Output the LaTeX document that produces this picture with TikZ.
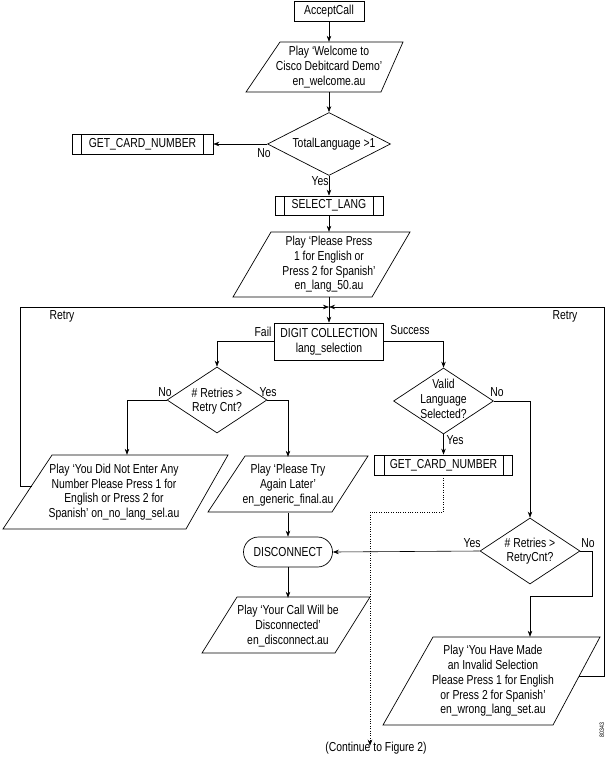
\documentclass[tikz,border=0pt]{standalone}
\usepackage{fontspec}
\setmainfont{Liberation Sans}[FakeStretch=0.8]
\usetikzlibrary{shapes.geometric,shapes.misc,arrows.meta}
\begin{document}
\begin{tikzpicture}[x=1pt,y=-1pt,
  txt/.style={font=\fontsize{13}{14.7}\selectfont, align=center, inner sep=0pt},
  box/.style={txt, draw, line width=0.7pt},
  proc/.style={box, path picture={\draw[line width=0.7pt]
      ([xshift=9.5pt]path picture bounding box.north west) -- ([xshift=9.5pt]path picture bounding box.south west)
      ([xshift=-9.5pt]path picture bounding box.north east) -- ([xshift=-9.5pt]path picture bounding box.south east);}},
  dec/.style={diamond, draw, line width=0.7pt, inner sep=0pt},
  term/.style={box, rounded rectangle},
  pline/.style={line width=0.7pt, line join=miter},
  conn/.style={line width=0.6pt},
  arr/.style={conn, -{Stealth[length=6pt,width=4.5pt]}},
  dots/.style={dash pattern=on 1pt off 1.4pt}
]
\useasboundingbox (0,0) rectangle (608,757);
\fill[white] (0,0) rectangle (608,757);

% nodes
\node[box, minimum width=70pt, minimum height=20pt] (accept) at (329,11) {AcceptCall};

\node[txt, minimum height=50pt] (welcome) at (329,67) {Play ‘Welcome to\\Cisco Debitcard Demo’\\en\_welcome.au};
\draw[pline] (280,42) -- (403,42) -- (381,92) -- (246,92) -- cycle;

\node[dec, minimum width=123pt, minimum height=63pt] (total) at (329,144) {};
\node[txt] (totalT) at (334,144) {TotalLanguage >1};

\node[proc, minimum width=141pt, minimum height=20pt] (gcnL) at (142.5,144) {GET\_CARD\_NUMBER};

\node[proc, minimum width=108pt, minimum height=19pt] (select) at (329,205.5) {SELECT\_LANG};

\node[txt, minimum height=65pt] (lang) at (329,264.5) {Play ‘Please Press\\1 for English or\\Press 2 for Spanish’\\en\_lang\_50.au};
\draw[pline] (271,232) -- (410,232) -- (372,297) -- (233,297) -- cycle;

\node[box, minimum width=109pt, minimum height=37pt] (digit) at (329,341.5) {DIGIT COLLECTION\\lang\_selection};

\node[dec, minimum width=100pt, minimum height=66pt] (retryL) at (217,400) {};
\node[txt] (retryLT) at (217,401) {\# Retries >\\Retry Cnt?};

\node[dec, minimum width=100pt, minimum height=66pt] (valid) at (443.5,401) {};
\node[txt] (validT) at (443.5,399) {Valid\\Language\\Selected?};

\node[txt, minimum height=74pt] (nolang) at (114,492) {Play ‘You Did Not Enter Any\\Number Please Press 1 for\\English or Press 2 for\\Spanish’ on\_no\_lang\_sel.au};
\draw[pline] (52,455) -- (228,455) -- (186,529) -- (3,529) -- cycle;

\node[txt, minimum height=56pt] (trylater) at (288,485) {Play ‘Please Try\\Again Later’\\en\_generic\_final.au};
\draw[pline] (245,456) -- (368,456) -- (332,512) -- (208,512) -- cycle;

\node[proc, minimum width=138pt, minimum height=20pt] (gcnR) at (443.5,465) {GET\_CARD\_NUMBER};

\node[term, minimum width=89pt, minimum height=30pt] (disc) at (288,552) {DISCONNECT};

\node[dec, minimum width=100pt, minimum height=66pt] (retryR) at (530,551) {};
\node[txt] (retryRT) at (530,551) {\# Retries >\\RetryCnt?};

\node[txt, minimum height=56pt] (discpara) at (288,626) {Play ‘Your Call Will be\\Disconnected’\\en\_disconnect.au};
\draw[pline] (237,597) -- (370,597) -- (335,653) -- (202,653) -- cycle;

\node[txt, minimum height=88pt] (wrong) at (493,681) {Play ‘You Have Made\\an Invalid Selection\\Please Press 1 for English\\or Press 2 for Spanish’\\en\_wrong\_lang\_set.au};
\draw[pline] (433,637) -- (600,637) -- (553,725) -- (383,725) -- cycle;

\node[txt] (cont) at (376,748) {(Continue to Figure 2)};
\node[txt, font=\fontsize{6.5}{7}\selectfont, rotate=90] (fignum) at (602,730) {80343};

% labels
\node[txt] (lNo1) at (264,153) {No};
\node[txt] (lYes1) at (320,181) {Yes};
\node[txt] (lRetryL) at (62,316) {Retry};
\node[txt] (lRetryR) at (565,316) {Retry};
\node[txt] (lFail) at (263,332) {Fail};
\node[txt] (lSucc) at (410,330) {Success};
\node[txt] (lNo2) at (165,392) {No};
\node[txt] (lYes2) at (268,392) {Yes};
\node[txt] (lNo3) at (497,392) {No};
\node[txt] (lYes3) at (455,440) {Yes};
\node[txt] (lYes4) at (472,543) {Yes};
\node[txt] (lNo4) at (588,543) {No};

% coordinates
\coordinate (merge) at (329,307);
\coordinate (nside) at (31.5,486);
\coordinate (wside) at (579,676);

% connectors
\draw[arr] (accept.south) -- (welcome.north);
\draw[arr] (welcome.south) -- (total.north);
\draw[arr] (total.west) -- (gcnL.east);
\draw[arr] (total.south) -- (select.north);
\draw[arr] (select.south) -- (lang.north);
\draw[arr] (lang.south) -- (digit.north);
\draw[arr] (nside) -| (20,307) -- (merge);
\draw[arr] (wside) -| (604,307) -- (merge);
\draw[arr] (digit.west) -| (retryL.north);
\draw[arr] (digit.east) -| (valid.north);
\draw[arr] (retryL.west) -| ([xshift=13pt]nolang.north);
\draw[arr] (retryL.east) -| (trylater.north);
\draw[arr] (trylater.south) -- (disc.north);
\draw[arr] (disc.south) -- (discpara.north);
\draw[arr] (valid.south) -- (gcnR.north);
\draw[arr] (valid.east) -| (retryR.north);
\draw[arr] (retryR.west) -- (disc.east);
\draw[arr] (retryR.east) -- ++(12,0) -- ++(0,45) -| ([xshift=37pt]wrong.north);
\draw[arr, dots] (gcnR.south) -- ++(0,37) -| ([xshift=-6pt,yshift=-4pt]cont.north);
\end{tikzpicture}
\end{document}
